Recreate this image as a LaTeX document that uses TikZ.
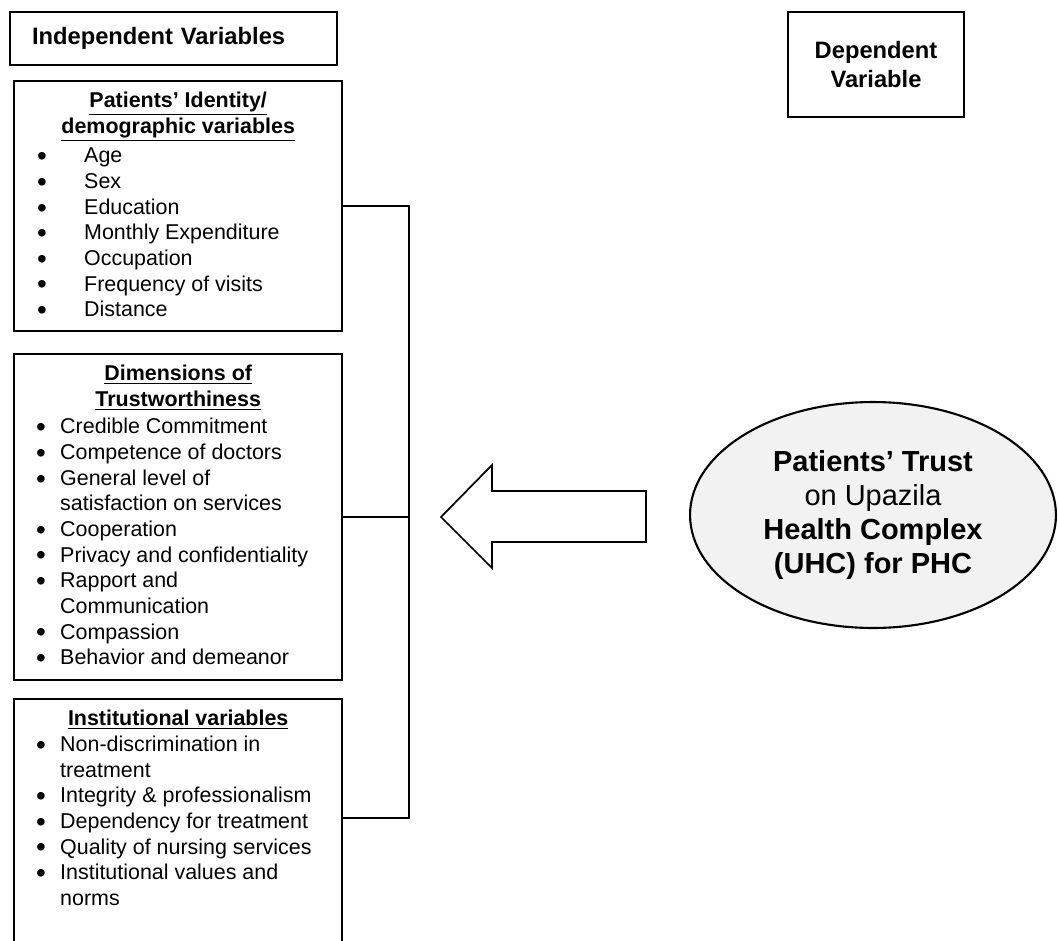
\documentclass[tikz,border=0pt]{standalone}
\usepackage{fontspec}
\setmainfont{Liberation Sans}
\usepackage{graphicx}
\usepackage{tikz}
\usetikzlibrary{shapes.geometric}
\definecolor{trustfill}{HTML}{F2F2F2}
\newcommand{\listdot}{\raisebox{-0.25ex}{\scalebox{1.3}{\textbullet}}}

\begin{document}
\begin{tikzpicture}[x=0.02cm,y=-0.02cm,
	varbox/.style={draw,line width=1.4pt,inner sep=0pt,anchor=north west,minimum width=6.56cm},
	varlist/.style={anchor=north,inner sep=0pt,yshift=-0.19cm,font=\fontsize{12.2}{14.6}\selectfont},
	headbox/.style={draw,line width=1.4pt,inner sep=0pt,font=\fontsize{13.5}{16.5}\selectfont\bfseries},
	link/.style={line width=1.1pt}]
	\useasboundingbox (0,0) rectangle (1058,940);
	\clip (0,0) rectangle (1058,940);
	\node[headbox,minimum width=6.54cm,minimum height=1.06cm,text width=5.66cm,align=left] (indep) at (173.5,38.5) {Independent Variables};
	\node[headbox,minimum width=3.52cm,minimum height=2.1cm,align=center] (dep) at (876,64.5) {Dependent\\Variable};
	\node[varbox,minimum height=5cm] (ident) at (13,80) {};
	\node[varbox,minimum height=6.52cm] (dims) at (13,353) {};
	\node[varbox,minimum height=6cm] (inst) at (13,698) {};
	\node[varlist] (identlist) at (ident.north) {\begin{tabular}{@{}p{1.4cm}@{}p{5.16cm}@{}}
		\multicolumn{2}{@{}c@{}}{\bfseries\underline{Patients’ Identity/}}\\
		\multicolumn{2}{@{}c@{}}{\bfseries\underline{demographic variables}}\\[2pt]
		\hspace{0.46cm}\listdot & Age\\
		\hspace{0.46cm}\listdot & Sex\\
		\hspace{0.46cm}\listdot & Education\\
		\hspace{0.46cm}\listdot & Monthly Expenditure\\
		\hspace{0.46cm}\listdot & Occupation\\
		\hspace{0.46cm}\listdot & Frequency of visits\\
		\hspace{0.46cm}\listdot & Distance
	\end{tabular}};
	\node[varlist] (dimslist) at (dims.north) {\begin{tabular}{@{}p{0.92cm}@{}p{5.64cm}@{}}
		\multicolumn{2}{@{}c@{}}{\bfseries\underline{Dimensions of}}\\
		\multicolumn{2}{@{}c@{}}{\bfseries\underline{Trustworthiness}}\\[1pt]
		\hspace{0.44cm}\listdot & Credible Commitment\\
		\hspace{0.44cm}\listdot & Competence of doctors\\
		\hspace{0.44cm}\listdot & General level of\newline satisfaction on services\\
		\hspace{0.44cm}\listdot & Cooperation\\
		\hspace{0.44cm}\listdot & Privacy and confidentiality\\
		\hspace{0.44cm}\listdot & Rapport and\newline Communication\\
		\hspace{0.44cm}\listdot & Compassion\\
		\hspace{0.44cm}\listdot & Behavior and demeanor
	\end{tabular}};
	\node[varlist] (instlist) at (inst.north) {\begin{tabular}{@{}p{0.92cm}@{}p{5.64cm}@{}}
		\multicolumn{2}{@{}c@{}}{\bfseries\underline{Institutional variables}}\\
		\hspace{0.44cm}\listdot & Non-discrimination in\newline treatment\\
		\hspace{0.44cm}\listdot & Integrity \& professionalism\\
		\hspace{0.44cm}\listdot & Dependency for treatment\\
		\hspace{0.44cm}\listdot & Quality of nursing services\\
		\hspace{0.44cm}\listdot & Institutional values and\newline norms
	\end{tabular}};
	\coordinate (bar) at (409,0);
	\coordinate (instjoin) at (341,818);
	\draw[link] (ident.east) -| (bar |- instjoin) -- (instjoin);
	\draw[link] (dims.east) -- (dims.east -| bar);
	\draw[line width=1pt,line join=miter] (441,517) -- (492,465) -- (492,491) -- (646,491) -- (646,542) -- (492,542) -- (492,568) -- cycle;
	\node[ellipse,draw,line width=1.2pt,fill=trustfill,minimum width=7.32cm,minimum height=4.52cm,inner sep=0pt,align=center,font=\fontsize{16.5}{19.4}\selectfont] (trust) at (873,515) {\textbf{Patients’ Trust}\\on Upazila\\\textbf{Health Complex}\\\textbf{(UHC) for PHC}};
\end{tikzpicture}
\end{document}
